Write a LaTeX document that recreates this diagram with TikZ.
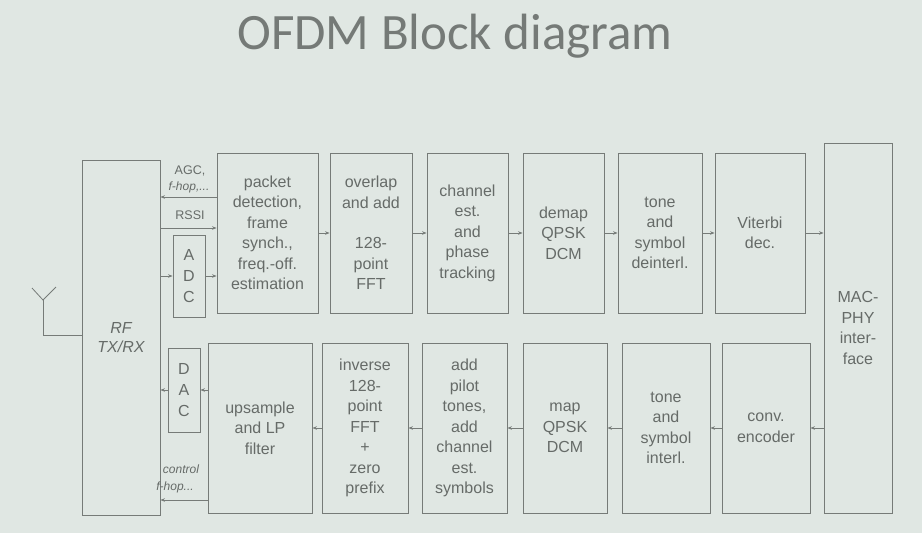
\documentclass[tikz,border=0pt]{standalone}
\usepackage{fontspec}
\setmainfont{Liberation Sans}
\newfontfamily\titlefont{Carlito}
\usetikzlibrary{arrows.meta}
\definecolor{slide}{RGB}{224,231,227}
\definecolor{ink}{RGB}{118,123,120}
\definecolor{txt}{RGB}{102,107,104}

\begin{document}
\begin{tikzpicture}[x=1pt,y=-1pt,>={Stealth[length=4.5pt,width=3.5pt]},font=\fontsize{16}{20.5}\selectfont,text=txt]
\tikzstyle{blk}=[draw=ink, line width=0.9pt, align=center, inner sep=0pt]
\tikzstyle{toprow}=[blk, minimum height=160pt]
\tikzstyle{botrow}=[blk, minimum height=170pt]
\tikzstyle{sig}=[draw=ink, line width=0.8pt]
\tikzstyle{lbl}=[font=\fontsize{12.5}{14}\selectfont, inner sep=1pt]
\tikzstyle{ilbl}=[font=\fontsize{12}{14}\selectfont\itshape, inner sep=1pt]

\fill[slide] (0,0) rectangle (922,533);
\useasboundingbox (0,0) rectangle (922,533);

\node[font=\titlefont\fontsize{51}{56}\selectfont, text=txt!90] (title) at (455,36) {OFDM Block diagram};

% front end
\node[blk, minimum width=78pt, minimum height=355pt, font=\fontsize{16}{19}\selectfont\itshape] (rf) at (121,337.5) {RF\\TX/RX};
\node[blk, minimum width=32pt, minimum height=82pt, font=\fontsize{16}{21}\selectfont] (adc) at (189,276) {A\\D\\C};
\node[blk, minimum width=32pt, minimum height=84pt, font=\fontsize{16}{21}\selectfont] (dac) at (184,390) {D\\A\\C};

% receive chain
\node[toprow, minimum width=101pt] (pkt) at (267.5,233) {packet\\detection,\\frame\\synch.,\\freq.-off.\\estimation};
\node[toprow, minimum width=82pt] (ovl) at (371,233) {overlap\\and add\\[20pt]128-\\point\\FFT};
\node[toprow, minimum width=81pt] (chn) at (467.5,233) {channel\\est.\\and\\phase\\tracking};
\node[toprow, minimum width=81pt] (dem) at (563.5,233) {demap\\QPSK\\DCM};
\node[toprow, minimum width=84pt] (tdi) at (660,233) {tone\\and\\symbol\\deinterl.};
\node[toprow, minimum width=90pt] (vit) at (760,233) {Viterbi\\dec.};

% transmit chain
\node[botrow, minimum width=104pt] (ups) at (260,428) {upsample\\and LP\\filter};
\node[botrow, minimum width=86pt] (ifft) at (365,428) {inverse\\128-\\point\\FFT\\+\\zero\\prefix};
\node[botrow, minimum width=85pt] (pil) at (464.5,428) {add\\pilot\\tones,\\add\\channel\\est.\\symbols};
\node[botrow, minimum width=84pt] (map) at (565,428) {map\\QPSK\\DCM};
\node[botrow, minimum width=88pt] (tin) at (666,428) {tone\\and\\symbol\\interl.};
\node[botrow, minimum width=88pt] (cnv) at (766,428) {conv.\\encoder};

\node[blk, minimum width=68pt, minimum height=370pt] (mac) at (858,328) {MAC-\\PHY\\inter-\\face};

% antenna
\coordinate (ant) at (43,300);
\draw[sig] (32,288) -- (ant) -- (56,287);
\draw[sig] (ant) -- (43,335) -- (rf.west |- 0,335);

% control lines
\node[lbl] (agc) at (190,171) {AGC,};
\node[ilbl] (fhop) at (189,187) {f-hop,...};
\node[lbl] (rssi) at (190,215) {RSSI};
\node[ilbl] (ctrl) at (181,469) {control};
\node[ilbl] (fhop2) at (175,487) {f-hop...};
\draw[sig,->] (pkt.west |- 0,197) -- (rf.east |- 0,197);
\draw[sig,->] (rf.east |- 0,228) -- (pkt.west |- 0,228);
\draw[sig,->] (ups.west |- 0,500) -- (rf.east |- 0,500);

% receive arrows
\draw[sig,->] (rf.east |- adc) -- (adc);
\draw[sig,->] (adc.east) -- (adc.east -| pkt.west);
\draw[sig,->] (pkt) -- (ovl);
\draw[sig,->] (ovl) -- (chn);
\draw[sig,->] (chn) -- (dem);
\draw[sig,->] (dem) -- (tdi);
\draw[sig,->] (tdi) -- (vit);
\draw[sig,->] (vit.east) -- (vit.east -| mac.west);

% transmit arrows
\draw[sig,->] (mac.west |- cnv.east) -- (cnv.east);
\draw[sig,->] (cnv) -- (tin);
\draw[sig,->] (tin) -- (map);
\draw[sig,->] (map) -- (pil);
\draw[sig,->] (pil) -- (ifft);
\draw[sig,->] (ifft) -- (ups);
\draw[sig,->] (ups.west |- dac) -- (dac);
\draw[sig,->] (dac.west) -- (dac.west -| rf.east);
\end{tikzpicture}
\end{document}
